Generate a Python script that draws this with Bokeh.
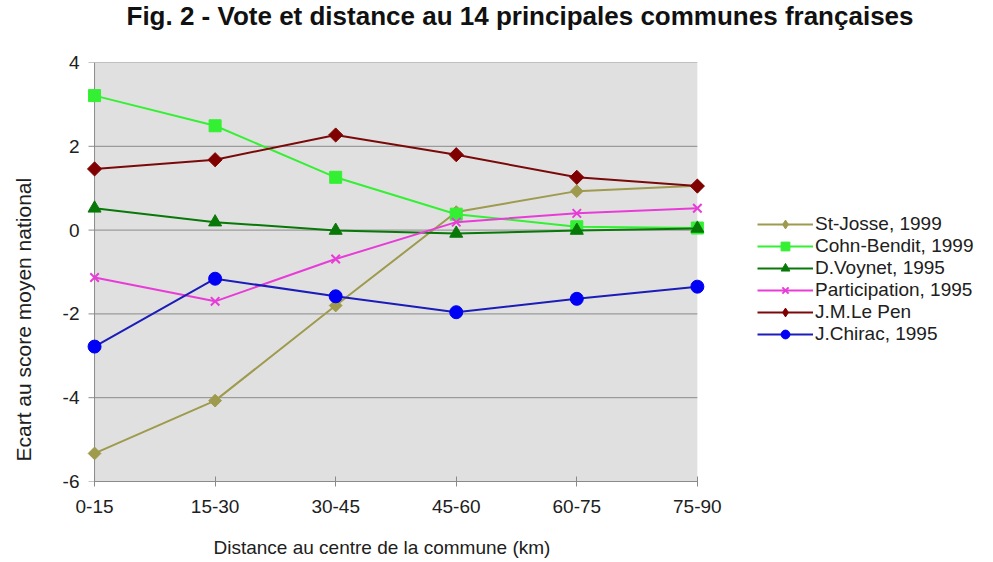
import numpy as np
from bokeh.plotting import figure
from bokeh.models import Range1d, FixedTicker, BoxAnnotation, Legend, LegendItem, Title
from bokeh.embed import file_html
from bokeh.resources import INLINE

# ---- data ----
categories = ["0-15", "15-30", "30-45", "45-60", "60-75", "75-90"]
st_josse = [-5.33, -4.07, -1.80, 0.43, 0.93, 1.06]
cohn_bendit = [3.21, 2.49, 1.26, 0.38, 0.08, 0.05]
voynet = [0.52, 0.19, -0.01, -0.08, -0.01, 0.04]
participation = [-1.13, -1.70, -0.69, 0.19, 0.40, 0.52]
le_pen = [1.46, 1.68, 2.27, 1.80, 1.26, 1.05]
chirac = [-2.78, -1.16, -1.58, -1.96, -1.64, -1.35]
y_ticks = [-6, -4, -2, 0, 2, 4]

series_names = ["St-Josse, 1999", "Cohn-Bendit, 1999", "D.Voynet, 1995",
                "Participation, 1995", "J.M.Le Pen", "J.Chirac, 1995"]

title_text = "Fig. 2 - Vote et distance au 14 principales communes françaises"
y_label = "Ecart au score moyen national"
x_label = "Distance au centre de la commune (km)"

FONT = "Liberation Sans"
xs = list(range(len(categories)))
last = len(categories) - 1

# frame extends to the right so that the legend lives inside it
p = figure(width=990, height=562,
           x_range=Range1d(-0.1, 7.39),
           y_range=Range1d(y_ticks[0], y_ticks[-1]),
           output_backend="svg", toolbar_location=None,
           min_border_left=82, min_border_right=5,
           min_border_top=62, min_border_bottom=81)
p.outline_line_color = None
p.background_fill_color = "white"
p.border_fill_color = "white"
p.xgrid.visible = False
p.ygrid.visible = False

# plot area background
p.add_layout(BoxAnnotation(left=0, right=last,
                           bottom=y_ticks[0], top=y_ticks[-1],
                           fill_color="#E0E0E0", fill_alpha=1.0,
                           line_color=None, level="underlay"))

GRID = "#8A8A8A"
p.segment(x0=[-0.05] * len(y_ticks), x1=[last] * len(y_ticks),
          y0=y_ticks, y1=y_ticks, line_color=GRID, line_width=1)
p.segment(x0=[0], x1=[0], y0=[y_ticks[0]], y1=[y_ticks[-1]],
          line_color=GRID, line_width=1)

# axes
xa = p.xaxis[0]
xa.ticker = FixedTicker(ticks=xs)
xa.major_label_overrides = {i: c for i, c in enumerate(categories)}
xa.bounds = (0, last)
xa.axis_line_color = GRID
xa.major_tick_line_color = GRID
xa.major_tick_in = 5
xa.major_tick_out = 5
xa.minor_tick_line_color = None
xa.major_label_standoff = 13
xa.major_label_text_font = FONT
xa.major_label_text_font_size = "19px"
xa.major_label_text_color = "#202020"

ya = p.yaxis[0]
ya.ticker = FixedTicker(ticks=y_ticks)
ya.major_label_overrides = {t: str(t) for t in y_ticks}
ya.axis_line_color = None
ya.major_tick_line_color = None
ya.minor_tick_line_color = None
ya.major_tick_in = 0
ya.major_tick_out = 0
ya.major_label_standoff = 3
ya.major_label_text_font = FONT
ya.major_label_text_font_size = "19px"
ya.major_label_text_color = "#202020"

# series: values, line colour, marker colour, plot marker, legend marker
specs = [
    (st_josse, "#9E9A4E", "#9E9A4E", dict(marker="square", size=9, angle=np.pi / 4), "diamond"),
    (cohn_bendit, "#33F033", "#33F033", dict(marker="square", size=12), None),
    (voynet, "#087808", "#087808", dict(marker="triangle", size=13), None),
    (participation, "#E83CD8", "#E83CD8", dict(marker="x", size=12, line_width=2), None),
    (le_pen, "#7A0A0A", "#800000", dict(marker="square", size=10, angle=np.pi / 4), "diamond"),
    (chirac, "#1C1CB8", "#0000F5", dict(marker="circle", size=13), None),
]

items = []
for name, (vals, lcol, mcol, mk, leg_marker) in zip(series_names, specs):
    lr = p.line(xs, vals, line_color=lcol, line_width=2)
    sr = p.scatter(xs, vals, fill_color=mcol, line_color=mcol, **mk)
    if leg_marker is not None:
        # legend glyphs ignore marker angle: hidden diamond proxy for the key
        proxy = p.scatter(xs, vals, marker=leg_marker, size=14,
                          fill_color=mcol, line_color=mcol, visible=False)
        items.append(LegendItem(label=name, renderers=[lr, proxy]))
    else:
        items.append(LegendItem(label=name, renderers=[lr, sr]))

legend = Legend(items=items, location=(675, 136),
                glyph_width=56, glyph_height=22, label_height=20,
                spacing=0, padding=0, margin=0, label_standoff=2,
                border_line_color=None, background_fill_alpha=0,
                label_text_font=FONT, label_text_font_size="19px",
                label_text_color="#202020")
p.add_layout(legend)

# Side titles: a blank extra line pushes each visible line away from the frame
p.title = Title(text=title_text + "\n ", align="left", offset=44, standoff=0,
                vertical_align="top", text_line_height=1.0,
                text_font=FONT, text_font_size="26px", text_font_style="bold",
                text_color="#111111")
p.add_layout(Title(text=y_label + "\n ", align="left", offset=20, standoff=0,
                   vertical_align="top", text_line_height=1.0, text_font=FONT,
                   text_font_size="21px", text_font_style="normal",
                   text_color="#202020"), "left")
p.add_layout(Title(text=" \n" + x_label, align="left", offset=131, standoff=0,
                   vertical_align="top", text_line_height=1.0, text_font=FONT,
                   text_font_size="19px", text_font_style="normal",
                   text_color="#202020"), "below")

open("out.html", "w").write(file_html(p, INLINE))
